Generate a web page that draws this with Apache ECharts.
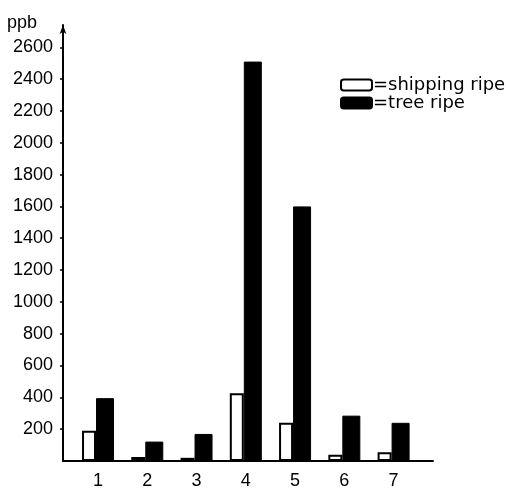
<!DOCTYPE html>
<html>
<head>
<meta charset="utf-8">
<script src="https://cdn.jsdelivr.net/npm/echarts@6/dist/echarts.min.js"></script>
<style>html,body{margin:0;padding:0;background:#fff;overflow:hidden}#c{width:506px;height:490px}</style>
</head>
<body>
<div id="c"></div>
<script>
const categories = [1, 2, 3, 4, 5, 6, 7];
const shippingRipe = [190, 25, 20, 425, 240, 40, 55];
const treeRipe = [395, 122, 170, 2510, 1600, 285, 240];
const yTicks = [200, 400, 600, 800, 1000, 1200, 1400, 1600, 1800, 2000, 2200, 2400, 2600];

const chart = echarts.init(document.getElementById('c'));
chart.setOption({
  animation: false,
  backgroundColor: '#fff',
  grid: { left: 63, right: 73, top: 25, bottom: 22 },
  legend: {
    orient: 'vertical',
    left: 340, top: 76, padding: 0,
    itemWidth: 31, itemHeight: 11, itemGap: 0,
    formatter: n => '=' + n,
    textStyle: { fontFamily: 'DejaVu Sans', fontSize: 18, color: '#000', lineHeight: 16.5, padding: [0, 0, 0, -4] },
    data: ['shipping ripe', 'tree ripe']
  },
  xAxis: {
    type: 'value', min: 0.289, max: 7.8,
    splitLine: { show: false },
    axisLine: { lineStyle: { color: '#000', width: 2 } },
    axisTick: { show: false },
    axisLabel: { customValues: categories, margin: 11, fontFamily: 'Liberation Sans', fontSize: 18, color: '#000' }
  },
  yAxis: {
    type: 'value', min: 0, max: 2740, interval: 200,
    name: 'ppb', nameLocation: 'end', nameGap: 2,
    nameTextStyle: { fontFamily: 'Liberation Sans', fontSize: 18, color: '#000', align: 'right', verticalAlign: 'middle', padding: [0, 26, 0, 0] },
    splitLine: { show: false },
    axisLine: { show: true, symbol: ['none', 'arrow'], symbolSize: [5, 9], lineStyle: { color: '#000', width: 2 } },
    axisTick: { length: 3, lineStyle: { color: '#000', width: 1.5 }, customValues: yTicks },
    axisLabel: { customValues: yTicks, formatter: v => String(v), margin: 10, fontFamily: 'Liberation Sans', fontSize: 18, color: '#000' }
  },
  series: [
    {
      name: 'shipping ripe', type: 'bar', barWidth: 14, barGap: '0%',
      itemStyle: { color: '#fff', borderColor: '#000', borderWidth: 2 },
      data: categories.map((c, i) => [c, shippingRipe[i]])
    },
    {
      name: 'tree ripe', type: 'bar', barWidth: 18, barGap: '0%',
      itemStyle: { color: '#000', borderColor: '#000', borderWidth: 1 },
      data: categories.map((c, i) => [c, treeRipe[i]])
    }
  ]
});
</script>
</body>
</html>
